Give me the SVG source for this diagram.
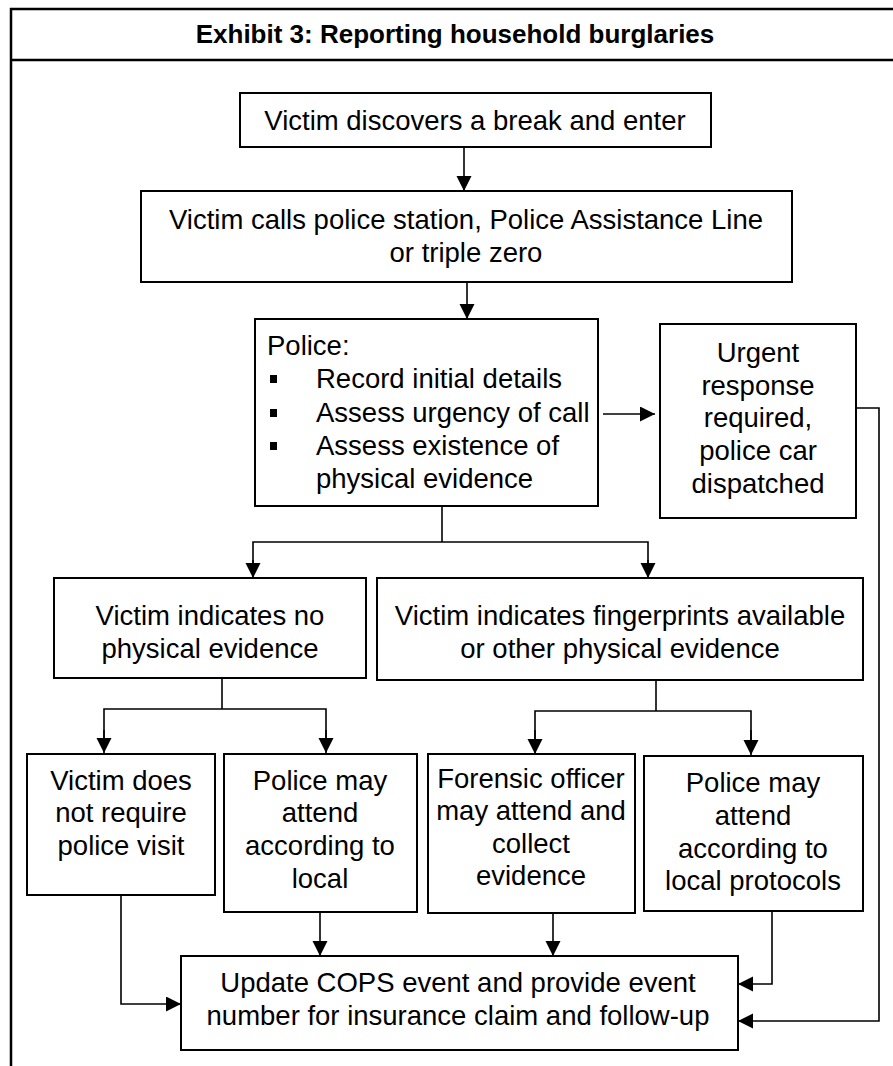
<svg xmlns="http://www.w3.org/2000/svg" width="893" height="1066" viewBox="0 0 893 1066">
<style>
  .frame { stroke: #000; stroke-width: 2.5; fill: none; }
  .box { fill: #fff; stroke: #000; stroke-width: 2; }
  .t { font-family: "Liberation Sans", Arial, sans-serif; font-size: 27.5px; fill: #000; text-anchor: middle; }
  .tl { font-family: "Liberation Sans", Arial, sans-serif; font-size: 27.5px; fill: #000; }
  .title { font-family: "Liberation Sans", Arial, sans-serif; font-size: 26px; font-weight: bold; fill: #000; text-anchor: middle; }
  .c { fill: none; stroke: #000; stroke-width: 1.6; }
  .ca { fill: none; stroke: #000; stroke-width: 1.6; marker-end: url(#arr); }
</style>
<defs>
  <marker id="arr" markerUnits="userSpaceOnUse" markerWidth="16" markerHeight="16" refX="15" refY="7.5" orient="auto">
    <path d="M0,0 L15,7.5 L0,15 z" fill="#000"/>
  </marker>
</defs>
<rect width="893" height="1066" fill="#fff"/>
<g id="frame">
  <line class="frame" x1="10" y1="9" x2="893" y2="9"/>
  <line class="frame" x1="10" y1="60" x2="893" y2="60"/>
  <line class="frame" x1="11" y1="8" x2="11" y2="1066" stroke-width="2"/>
  <text class="title" x="455" y="43">Exhibit 3: Reporting household burglaries</text>
</g>
<g id="connectors">
  <line class="ca" x1="464" y1="147" x2="464" y2="191"/>
  <line class="ca" x1="467" y1="282" x2="467" y2="319"/>
  <line class="ca" x1="603" y1="414" x2="655" y2="414"/>
  <line class="c" x1="442" y1="506" x2="442" y2="542"/>
  <polyline class="c" points="253,570 253,542 648,542 648,570"/>
  <line class="ca" x1="253" y1="560" x2="253" y2="578"/>
  <line class="ca" x1="648" y1="560" x2="648" y2="578"/>
  <line class="c" x1="222" y1="678" x2="222" y2="709"/>
  <polyline class="c" points="104,740 104,709 326,709 326,740"/>
  <line class="ca" x1="104" y1="730" x2="104" y2="753"/>
  <line class="ca" x1="326" y1="730" x2="326" y2="753"/>
  <line class="c" x1="656" y1="680" x2="656" y2="711"/>
  <polyline class="c" points="535,740 535,711 751,711 751,740"/>
  <line class="ca" x1="535" y1="730" x2="535" y2="754"/>
  <line class="ca" x1="751" y1="730" x2="751" y2="755"/>
  <polyline class="ca" points="121,895 121,1004 181,1004"/>
  <line class="ca" x1="320" y1="912" x2="320" y2="956"/>
  <line class="ca" x1="553" y1="913" x2="553" y2="956"/>
  <polyline class="ca" points="772,911 772,984 738,984"/>
  <polyline class="ca" points="856,408 879,408 879,1021 738,1021"/>
</g>
<g id="n1">
  <rect class="box" x="240" y="93" width="471" height="54"/>
  <text class="t" x="475" y="130">Victim discovers a break and enter</text>
</g>
<g id="n2">
  <rect class="box" x="141" y="191" width="651" height="91"/>
  <text class="t" x="466" y="229">Victim calls police station, Police Assistance Line</text>
  <text class="t" x="466" y="262">or triple zero</text>
</g>
<g id="n3">
  <rect class="box" x="255" y="319" width="343" height="187"/>
  <text class="tl" x="267" y="355">Police:</text>
  <rect x="270" y="375" width="7" height="8" fill="#000"/>
  <text class="tl" x="316" y="388">Record initial details</text>
  <rect x="270" y="409" width="7" height="8" fill="#000"/>
  <text class="tl" x="316" y="422">Assess urgency of call</text>
  <rect x="270" y="442" width="7" height="8" fill="#000"/>
  <text class="tl" x="316" y="455">Assess existence of</text>
  <text class="tl" x="316" y="488">physical evidence</text>
</g>
<g id="n4">
  <rect class="box" x="660" y="324" width="196" height="194"/>
  <text class="t" x="758" y="362">Urgent</text>
  <text class="t" x="758" y="395">response</text>
  <text class="t" x="758" y="427">required,</text>
  <text class="t" x="758" y="460">police car</text>
  <text class="t" x="758" y="493">dispatched</text>
</g>
<g id="n5">
  <rect class="box" x="54" y="578" width="312" height="100"/>
  <text class="t" x="210" y="625">Victim indicates no</text>
  <text class="t" x="210" y="658">physical evidence</text>
</g>
<g id="n6">
  <rect class="box" x="377" y="578" width="486" height="102"/>
  <text class="t" x="620" y="625">Victim indicates fingerprints available</text>
  <text class="t" x="620" y="658">or other physical evidence</text>
</g>
<g id="n7">
  <rect class="box" x="27" y="754" width="188" height="141"/>
  <text class="t" x="121" y="790">Victim does</text>
  <text class="t" x="121" y="822">not require</text>
  <text class="t" x="121" y="855">police visit</text>
</g>
<g id="n8">
  <rect class="box" x="224" y="754" width="193" height="158"/>
  <text class="t" x="320" y="790">Police may</text>
  <text class="t" x="320" y="822">attend</text>
  <text class="t" x="320" y="855">according to</text>
  <text class="t" x="320" y="888">local</text>
</g>
<g id="n9">
  <rect class="box" x="428" y="754" width="207" height="159"/>
  <text class="t" x="531" y="788">Forensic officer</text>
  <text class="t" x="531" y="820">may attend and</text>
  <text class="t" x="531" y="853">collect</text>
  <text class="t" x="531" y="885">evidence</text>
</g>
<g id="n10">
  <rect class="box" x="644" y="756" width="219" height="155"/>
  <text class="t" x="753" y="792">Police may</text>
  <text class="t" x="753" y="825">attend</text>
  <text class="t" x="753" y="858">according to</text>
  <text class="t" x="753" y="890">local protocols</text>
</g>
<g id="n11">
  <rect class="box" x="181" y="956" width="557" height="94"/>
  <text class="t" x="458" y="992">Update COPS event and provide event</text>
  <text class="t" x="458" y="1025">number for insurance claim and follow-up</text>
</g>
</svg>
